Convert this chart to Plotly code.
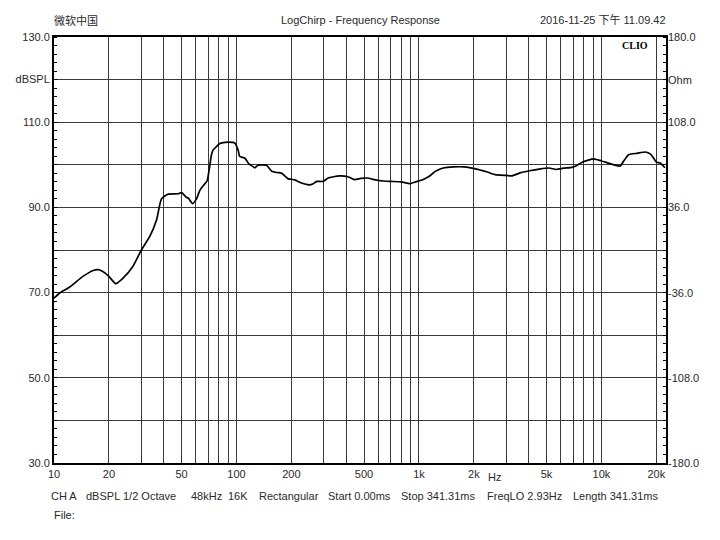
import plotly.graph_objects as go

# ---- data ----
freq_hz = [10, 10.75, 12.2, 14.4, 16.4, 17.5, 18.2, 19.8, 21.8, 23.9, 27.1, 30.2, 33.5, 36.5,
           38.8, 42, 47.9, 50, 53, 54.4, 57.5, 60.4, 63, 66, 69, 71.3, 73, 74.5, 77.8, 81,
           84.5, 90, 98, 102, 104, 106.5, 111, 117, 121, 126, 131, 137, 146, 156, 166, 177,
           185, 192, 200, 210, 222, 237, 250, 262, 275, 298, 318, 340, 369, 401, 419, 445,
           480, 520, 586, 640, 694, 800, 895, 960, 1050, 1140, 1223, 1290, 1360, 1550, 1765,
           2010, 2370, 2620, 3030, 3230, 3580, 4040, 4560, 5170, 5660, 6200, 6900, 7300,
           7940, 9060, 10020, 12650, 13200, 14150, 15700, 17400, 18600, 19500, 20080, 21000,
           22300]
spl_db = [68.7, 69.9, 71.3, 73.8, 75.2, 75.4, 75.1, 74.0, 72.1, 73.4, 76.2, 80.1, 83.2, 87.1,
          92.0, 93.1, 93.2, 93.5, 92.4, 92.2, 90.9, 92.0, 94.0, 95.2, 96.2, 99.6, 102.4, 103.5,
          104.3, 105.0, 105.2, 105.3, 105.1, 103.5, 102.0, 101.8, 101.6, 100.2, 99.8, 99.3,
          99.9, 100.0, 99.9, 98.5, 98.2, 98.0, 97.3, 96.7, 96.6, 96.4, 95.9, 95.5, 95.3, 95.5,
          96.1, 96.1, 96.9, 97.2, 97.4, 97.3, 97.0, 96.5, 96.8, 96.9, 96.4, 96.2, 96.1, 96.0,
          95.6, 96.0, 96.5, 97.3, 98.4, 98.9, 99.25, 99.5, 99.5, 99.1, 98.3, 97.7, 97.5, 97.4,
          98.1, 98.6, 99.0, 99.25, 98.9, 99.2, 99.4, 99.8, 100.7, 101.4, 100.9, 99.7, 100.8,
          102.4, 102.7, 103.0, 102.5, 101.3, 100.6, 100.4, 99.3]

left_tick_vals = [30, 40, 50, 60, 70, 80, 90, 100, 110, 120, 130]
left_tick_text = ["30.0", "", "50.0", "", "70.0", "", "90.0", "", "110.0", "dBSPL", "130.0"]
right_tick_vals = [-180, -144, -108, -72, -36, 0, 36, 72, 108, 144, 180]
right_tick_text = ["-180.0", "", "-108.0", "", "-36.0", "", "36.0", "", "108.0", "Ohm", "180.0"]

freq_grid = [m * 10 ** e for e in range(1, 5) for m in range(1, 10) if m * 10 ** e <= 20000]
freq_label_map = {10: "10", 20: "20", 50: "50", 100: "100", 200: "200", 500: "500",
                  1000: "1k", 2000: "2k", 5000: "5k", 10000: "10k", 20000: "20k"}
freq_tick_text = [freq_label_map.get(f, "") for f in freq_grid]

header_left = "微软中国"
header_title = "LogChirp - Frequency Response"
header_right = "2016-11-25 下午 11.09.42"
info_items = ["CH A", "dBSPL", "1/2 Octave", "48kHz", "16K", "Rectangular",
              "Start 0.00ms", "Stop 341.31ms", "FreqLO 2.93Hz", "Length 341.31ms"]
info_x_px = [50.7, 86, 123.3, 190.7, 227.7, 259.3, 328.3, 400.7, 486.7, 573.3]

# ---- layout geometry (page pixels; the page has an 8px body margin) ----
OFF = 8
PX0, PX1, PY0, PY1 = 54, 666, 37, 463      # plot area in page pixels
W, H = 720 - OFF, 540 - OFF
L, T = PX0 - OFF, PY0 - OFF
R, B = W - (PX1 - OFF), H - (PY1 - OFF)
PW, PH = PX1 - PX0, PY1 - PY0


def px_x(x):
    return (x - PX0) / PW


def px_y(y):
    return (PY1 - y) / PH


FONT = "Liberation Sans, Arial, sans-serif"
TXT = "#2a2a2a"
GRID = "#3a3a3a"

fig = go.Figure()
fig.add_trace(go.Scatter(x=freq_hz, y=spl_db, mode="lines",
                         line=dict(color="black", width=1.7, shape="spline", smoothing=0.5),
                         hoverinfo="skip", showlegend=False))
fig.add_trace(go.Scatter(x=[10], y=[0], yaxis="y2", mode="markers",
                         marker=dict(opacity=0), hoverinfo="skip", showlegend=False))

fig.update_layout(
    width=W, height=H, autosize=False,
    margin=dict(l=L, r=R, t=T, b=B, pad=0),
    paper_bgcolor="white", plot_bgcolor="white",
    font=dict(family=FONT, size=11, color=TXT),
    xaxis=dict(type="log", range=[1, 4.354], tickmode="array", tickvals=freq_grid,
               ticktext=freq_tick_text, showgrid=True, gridcolor=GRID, gridwidth=1,
               ticks="", showline=True, linecolor="black", linewidth=2, mirror=True,
               zeroline=False, automargin=False, tickfont=dict(size=11, color=TXT)),
    yaxis=dict(range=[30, 130], tickmode="array", tickvals=left_tick_vals,
               ticktext=left_tick_text, showgrid=True, gridcolor=GRID, gridwidth=1,
               ticks="", showline=True, linecolor="black", linewidth=2, mirror=True,
               zeroline=False, automargin=False, tickfont=dict(size=11, color=TXT),
               minor=dict(tick0=30, dtick=2, ticks="inside", ticklen=3, tickcolor="black",
                          showgrid=False)),
    yaxis2=dict(overlaying="y", side="right", range=[-180, 180], tickmode="array",
                tickvals=right_tick_vals, ticktext=[""] * len(right_tick_vals),
                showgrid=False, ticks="", showline=False, zeroline=False, automargin=False,
                minor=dict(tick0=-180, dtick=7.2, ticks="inside", ticklen=3,
                           tickcolor="black", showgrid=False)),
)

ann = []
ann.append(dict(text=header_left, x=px_x(54), y=px_y(20), xanchor="left", yanchor="middle",
                font=dict(family="Noto Sans CJK SC", size=11, color=TXT)))
ann.append(dict(text=header_title, x=px_x(360), y=px_y(20), xanchor="center", yanchor="middle"))
ann.append(dict(text=header_right, x=px_x(666), y=px_y(20), xanchor="right", yanchor="middle",
                font=dict(family=FONT + ", Noto Sans CJK SC", size=11, color=TXT)))
ann.append(dict(text="<b>CLIO</b>", x=px_x(635), y=px_y(45), xanchor="center", yanchor="middle",
                font=dict(family="Liberation Serif, DejaVu Serif, serif", size=10, color="black")))
ann.append(dict(text="Hz", x=px_x(494.5), y=px_y(477), xanchor="center", yanchor="middle"))
for v, t in zip(right_tick_vals, right_tick_text):
    if t:
        ann.append(dict(text=t, x=1, xshift=2, y=v, yref="y2", xanchor="left",
                        yanchor="middle"))
for t, xp in zip(info_items, info_x_px):
    ann.append(dict(text=t, x=px_x(xp), y=px_y(496), xanchor="left", yanchor="middle"))
ann.append(dict(text="File:", x=px_x(54), y=px_y(515), xanchor="left", yanchor="middle"))
for a in ann:
    a.setdefault("yref", "paper")
    a.update(xref="paper", showarrow=False, borderpad=0, borderwidth=0)
    a.setdefault("font", dict(family=FONT, size=11, color=TXT))
fig.update_layout(annotations=ann)

fig.write_html("out.html")
